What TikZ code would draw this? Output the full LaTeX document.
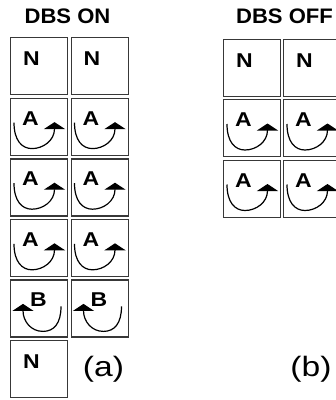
\documentclass[tikz,border=0pt]{standalone}
\usepackage{fontspec}
\setmainfont{Liberation Sans}
\usetikzlibrary{arrows.meta}

\tikzset{
  cellbox/.style={draw=black!78, line width=1.3pt, minimum width=57pt,
    minimum height=57pt, inner sep=0pt, anchor=north west},
  celltag/.style={anchor=base, inner sep=0pt, font=\fontsize{20}{20}\selectfont\bfseries},
  turn/.style={line width=1.2pt, -{Triangle[width=21pt,length=7pt]}},
  heading/.style={anchor=base, inner sep=0pt, font=\fontsize{21}{21}\selectfont\bfseries},
  panel/.style={anchor=base, inner sep=0pt, font=\fontsize{28}{28}\selectfont},
  % cell with no transition
  cellN/.pic={
    \node[cellbox] (-box) at (0,0) {};
    \node[celltag] (-tag) at (21.5,28.5) {\scalebox{1.15}[1]{N}};
  },
  % cell with transition A (arrow rising on the right)
  cellA/.pic={
    \node[cellbox] (-box) at (0,0) {};
    \node[celltag] (-tag) at (20.5,27.5) {\scalebox{1.15}[1]{A}};
    \draw[turn] (4,25) .. controls (4,43) and (12,51) .. (22,51)
                .. controls (33,51) and (44.5,43) .. (44.5,24.5);
  },
  % cell with transition B (arrow rising on the left)
  cellB/.pic={
    \node[cellbox] (-box) at (0,0) {};
    \node[celltag] (-tag) at (28.5,27.5) {\scalebox{1.15}[1]{B}};
    \draw[turn] (51,27) .. controls (51,44) and (44,52) .. (33,52)
                .. controls (21,52) and (13,42) .. (13,24.5);
  },
}

\begin{document}
\begin{tikzpicture}[x=1pt, y=-1pt]
  \useasboundingbox (0,0) rectangle (336,400);
  \clip (0,0) rectangle (336,400);
  \fill[white] (0,0) rectangle (336,400);

  % panel (a): DBS on
  \node[heading] (titleOn) at (67.5,23) {\scalebox{1.05}[1]{DBS ON}};
  \pic (on1l) at (10,37)    {cellN};
  \pic (on1r) at (70.5,37)  {cellN};
  \pic (on2l) at (10,97.6)  {cellA};
  \pic (on2r) at (70.5,97.6){cellA};
  \pic (on3l) at (10,158.2) {cellA};
  \pic (on3r) at (70.5,158.2){cellA};
  \pic (on4l) at (10,218.8) {cellA};
  \pic (on4r) at (70.5,218.8){cellA};
  \pic (on5l) at (10,279.4) {cellB};
  \pic (on5r) at (70.5,279.4){cellB};
  \pic (on6l) at (10,340)   {cellN};
  \node[panel] (labA) at (103.5,376.5) {\scalebox{1.2}[1]{(a)}};

  % panel (b): DBS off
  \node[heading] (titleOff) at (284.5,23) {\scalebox{1.05}[1]{DBS OFF}};
  \pic (off1l) at (223,38.5) {cellN};
  \pic (off1r) at (283,38.5) {cellN};
  \pic (off2l) at (223,99)   {cellA};
  \pic (off2r) at (283,99)   {cellA};
  \pic (off3l) at (223,159.5){cellA};
  \pic (off3r) at (283,159.5){cellA};
  \node[panel] (labB) at (311,376.5) {\scalebox{1.2}[1]{(b)}};
\end{tikzpicture}
\end{document}
